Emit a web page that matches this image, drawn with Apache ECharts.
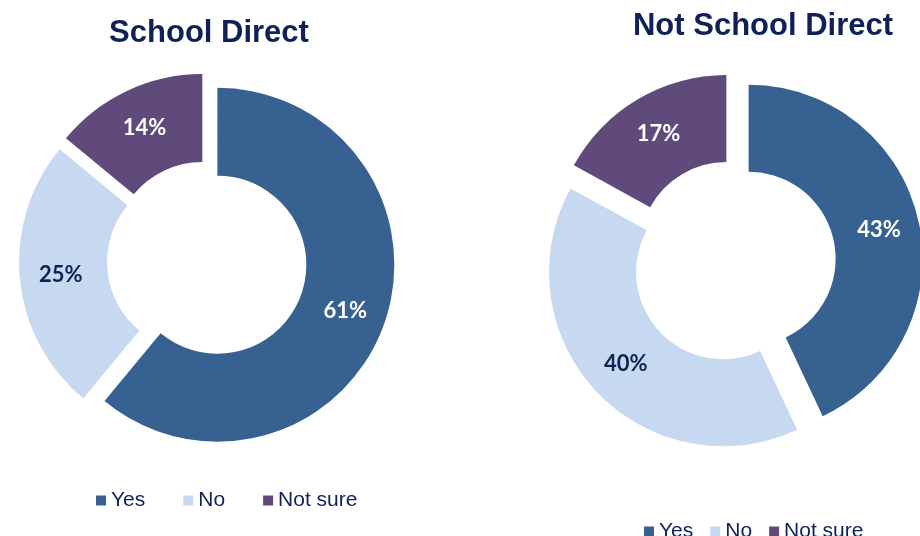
<!DOCTYPE html>
<html>
<head>
<meta charset="utf-8">
<script src="https://cdn.jsdelivr.net/npm/echarts@6/dist/echarts.min.js"></script>
<style>
  html, body { margin: 0; padding: 0; background: #ffffff; }
  #chart { width: 920px; height: 536px; }
</style>
</head>
<body>
<div id="chart"></div>
<script>
// Survey answers, in percent
const categories = ['Yes', 'No', 'Not sure'];
const schoolDirect = [61, 25, 14];
const notSchoolDirect = [43, 40, 17];
const chartTitles = ['School Direct', 'Not School Direct'];

const sliceColors = ['#376190', '#c6d9f1', '#5f4a7b'];
const labelColors = ['#ffffff', '#0f2350', '#ffffff'];
const navy = '#0f2157';

function donutData(values) {
  return values.map(function (v, i) {
    return {
      name: categories[i],
      value: v,
      selected: true,
      itemStyle: { color: sliceColors[i] },
      select: { itemStyle: { color: sliceColors[i] }, label: { color: labelColors[i] } },
      label: { color: labelColors[i] }
    };
  });
}

function donut(values, center, radius, offset) {
  return {
    type: 'pie',
    center: center,
    radius: radius,
    startAngle: 90,
    clockwise: true,
    selectedMode: 'multiple',
    selectedOffset: offset,
    avoidLabelOverlap: false,
    emphasis: { disabled: true, scale: false },
    label: {
      show: true,
      position: 'inside',
      formatter: '{c}%',
      fontFamily: 'Lato',
      fontWeight: 'bold',
      fontSize: 22
    },
    labelLine: { show: false },
    itemStyle: { borderWidth: 0 },
    data: donutData(values)
  };
}

const legendText = { fontFamily: 'Liberation Sans', fontSize: 21, color: navy };

const chart = echarts.init(document.getElementById('chart'), null, { renderer: 'canvas' });
chart.setOption({
  animation: false,
  backgroundColor: '#ffffff',
  title: [
    {
      text: chartTitles[0], left: 204, top: 13, textAlign: 'center',
      textStyle: { fontFamily: 'Liberation Sans', fontWeight: 'bold', fontSize: 31, color: navy }
    },
    {
      text: chartTitles[1], left: 758, top: 6, textAlign: 'center',
      textStyle: { fontFamily: 'Liberation Sans', fontWeight: 'bold', fontSize: 31, color: navy }
    }
  ],
  legend: [
    {
      data: categories, left: 91, top: 485, icon: 'rect',
      itemWidth: 10, itemHeight: 10, itemGap: 38,
      selectedMode: false, textStyle: legendText
    },
    {
      data: categories, left: 639, top: 516, icon: 'rect',
      itemWidth: 10, itemHeight: 10, itemGap: 17,
      selectedMode: false, textStyle: legendText
    }
  ],
  series: [
    donut(schoolDirect, [207, 261], [89, 177], 11),
    donut(notSchoolDirect, [734, 262], [87, 174], 15)
  ]
});
</script>
</body>
</html>
